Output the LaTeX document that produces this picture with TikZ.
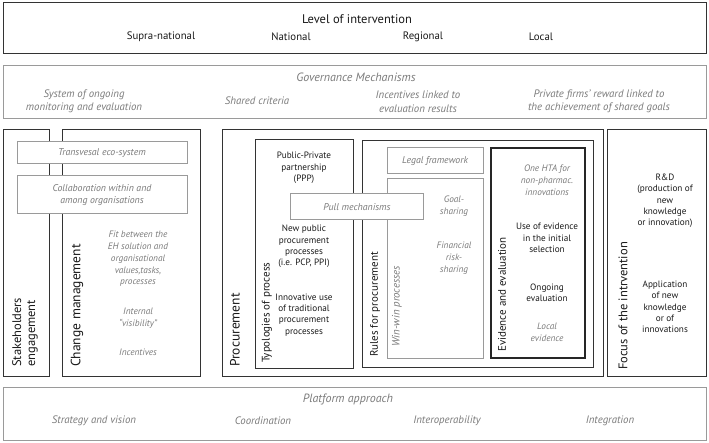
\documentclass[tikz,border=0pt]{standalone}
\usepackage{fontspec}
\setmainfont{PT Sans}
\newcommand\fsz[2]{\fontsize{#1}{#2}\selectfont}
\definecolor{dk}{HTML}{333333}
\definecolor{gb}{HTML}{9A9A9A}
\definecolor{gt}{HTML}{7A7A7A}
\tikzset{
  darkbox/.style={draw=dk, line width=1pt},
  graybox/.style={draw=gb, line width=1pt},
  wbox/.style={draw=gb, line width=1pt, fill=white},
  evbox/.style={draw=black!85, line width=1.2pt},
  bigt/.style={font=\fsz{12.5}{14}, text=black!90, inner sep=0pt},
  lvl/.style={font=\fsz{10.8}{13}, text=black!90, inner sep=0pt},
  gitem/.style={font=\fsz{10.8}{13.5}\itshape, text=gt, align=center, inner sep=0pt},
  gtitle/.style={font=\fsz{12}{14}\itshape, text=gt, inner sep=0pt},
  boxt/.style={font=\fsz{9.8}{12}\itshape, text=gt, align=center, inner sep=0pt},
  smallk/.style={font=\fsz{9.2}{11.3}, text=black!90, align=center, inner sep=0pt},
  smallg/.style={font=\fsz{9.3}{11.8}\itshape, text=gt, align=center, inner sep=0pt},
  rotl/.style={rotate=90, anchor=west, inner sep=0pt, text=black!90, align=left},
}
\begin{document}
\begin{tikzpicture}[x=1pt, y=-1pt]
\useasboundingbox (0,0) rectangle (709,443);
% main frames
\draw[darkbox] (3,3) rectangle (706,54);
\draw[graybox] (3,66) rectangle (706,119);
\draw[graybox] (3,387) rectangle (706,440);
\draw[darkbox] (3,130) rectangle (49,376);
\draw[darkbox] (62,130) rectangle (200,376);
\draw[darkbox] (222,130) rectangle (603,376);
\draw[darkbox] (255,140) rectangle (353,368);
\draw[darkbox] (362,141) rectangle (593,367);
\draw[graybox] (387,148) rectangle (483,174);
\draw[graybox] (387,179) rectangle (483,358);
\draw[evbox] (491,148) rectangle (585,358);
\draw[darkbox] (607,130) rectangle (706,376);
% overlapping white boxes
\draw[wbox] (17,142) rectangle (187,164);
\draw[wbox] (17,176) rectangle (187,214);
\draw[wbox] (290,194) rectangle (423,220);

% top
\node[bigt] (title) at (357,19) {Level of intervention};
\node[lvl] (supra) at (161,37) {Supra-national};
\node[lvl] (national) at (291,37) {National};
\node[lvl] (regional) at (423,37) {Regional};
\node[lvl] (local) at (541,37) {Local};
% governance
\node[gtitle] (gov) at (356,77) {Governance Mechanisms};
\node[gitem] (g1) at (84,101.5) {System of ongoing\\monitoring and evaluation};
\node[gitem] (g2) at (257,101) {Shared criteria};
\node[gitem] (g3) at (418,101.5) {Incentives linked to\\evaluation results};
\node[gitem] (g4) at (599,101.5) {Private firms' reward linked to\\the achievement of shared goals};
% platform
\node[gtitle] (plat) at (348,399) {Platform approach};
\node[gitem] (p1) at (94,421) {Strategy and vision};
\node[gitem] (p2) at (263,421) {Coordination};
\node[gitem] (p3) at (447,421) {Interoperability};
\node[gitem] (p4) at (610,421) {Integration};
% left boxes
\node[boxt] (trans) at (102,153) {Transvesal eco-system};
\node[boxt] (collab) at (102,195) {Collaboration within and\\among organisations};
\node[smallg] (fit) at (138,259) {Fit between the\\EH solution and\\organisational\\values,tasks,\\processes};
\node[smallg] (intern) at (138,318.5) {Internal\\``visibility''};
\node[smallg] (incent) at (138,352) {Incentives};
\node[rotl, font=\fsz{12.5}{14}] (stake) at (25,367) {Stakeholders\\engagement};
\node[rotl, font=\fsz{13.5}{15}] (change) at (77,367) {Change management};
\node[rotl, font=\fsz{13.5}{15}] (proc) at (235,367) {Procurement};
% typologies
\node[rotl, font=\fsz{11}{13}] (typo) at (267,363) {Typologies of process};
\node[smallk] (ppp) at (304,168) {Public-Private\\partnership\\(PPP)};
\node[boxt] (pull) at (357,207) {Pull mechanisms};
\node[smallk] (newpub) at (304,246.5) {New public\\procurement\\processes\\(i.e. PCP, PPI)};
\node[smallk] (innov) at (304,315) {Innovative use\\of traditional\\procurement\\processes};
% rules
\node[rotl, font=\fsz{11}{13}] (rules) at (375,357) {Rules for procurement};
\node[boxt] (legal) at (435,161) {Legal framework};
\node[rotl, font=\fsz{10.8}{13}\itshape, text=gt] (winwin) at (397,347) {Win-win processes};
\node[smallg] (goal) at (454,206) {Goal-\\sharing};
\node[smallg] (fin) at (454,258) {Financial\\risk-\\sharing};
% evidence
\node[rotl, font=\fsz{11}{13}] (evid) at (502,352) {Evidence and evaluation};
\node[smallg] (hta) at (547,180) {One HTA for\\non-pharmac.\\innovations};
\node[smallk] (use) at (547,238) {Use of evidence\\in the initial\\selection};
\node[smallk] (ongo) at (547,292.5) {Ongoing\\evaluation};
\node[smallg] (locev) at (547,332) {Local\\evidence};
% focus
\node[rotl, font=\fsz{12.5}{14}] (focus) at (623,370) {Focus of the intrvention};
\node[smallk] (rd) at (665,201) {R\&D\\(production of\\new\\knowledge\\or innovation)};
\node[smallk] (appl) at (665,307) {Application\\of new\\knowledge\\or of\\innovations};
\end{tikzpicture}
\end{document}
